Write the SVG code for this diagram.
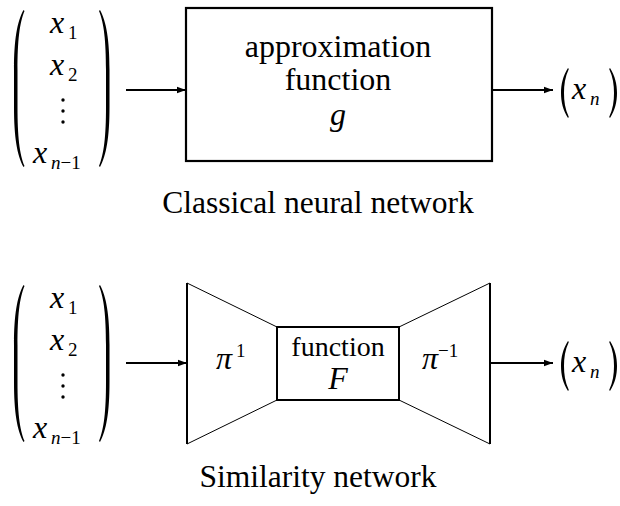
<svg xmlns="http://www.w3.org/2000/svg" width="620" height="506" viewBox="0 0 620 506" font-family="Liberation Serif, Times New Roman, Times, DejaVu Serif, FreeSerif, serif">
<style>
text{font-family:"Liberation Serif","Times New Roman",Times,"DejaVu Serif",FreeSerif,serif;fill:#000}
.mi{font-style:italic;font-size:32px}
.sub{font-size:19px}
.cap{font-size:31.5px;text-anchor:middle}
.edge{stroke:#000;stroke-width:2;fill:none}
.thin{stroke:#000;stroke-width:1;fill:none}
.par{fill:#000;stroke:none}
</style>
<defs>
<marker id="ah" markerUnits="userSpaceOnUse" markerWidth="10" markerHeight="8" refX="9" refY="4" orient="auto">
<path d="M0,0.8 L9,4 L0,7.2 Z" fill="#000"/>
</marker>
<path id="bigL" d="M23.5,10 C17,22 14,40 14,70 L14,107 C14,137 17,155 23.5,167 L24.5,166 C19.5,154 17.5,136 17.5,107 L17.5,70 C17.5,41 19.5,23 24.5,11 Z"/>
<path id="smL" d="M568,68 C563,76 561,84 561,93 C561,102 563,110 568,118 L568.8,117 C565,109 564,101 564,93 C564,85 565,77 568.8,69 Z"/>
</defs>

<g id="input-vector-top">
<use href="#bigL" class="par"/>
<use href="#bigL" class="par" transform="translate(123.5,0) scale(-1,1)"/>
<text class="mi" x="50" y="33">x</text><text class="sub" x="68" y="39">1</text>
<text class="mi" x="50" y="75">x</text><text class="sub" x="68" y="81">2</text>
<circle cx="63" cy="100" r="1.7"/><circle cx="63" cy="111" r="1.7"/><circle cx="63" cy="122" r="1.7"/>
<text class="mi" x="33" y="163">x</text><text class="sub" x="51" y="169"><tspan font-style="italic">n</tspan>−1</text>
</g>
<g id="approximation-box">
<rect x="186" y="8" width="306" height="153" fill="#fff" stroke="#000" stroke-width="2.2"/>
<text font-size="32" text-anchor="middle" x="338" y="57">approximation</text>
<text font-size="32" text-anchor="middle" x="338" y="90">function</text>
<text class="mi" text-anchor="middle" x="338" y="125">g</text>
</g>
<g id="output-top">
<use href="#smL" class="par"/>
<use href="#smL" class="par" transform="translate(1178,0) scale(-1,1)"/>
<text class="mi" x="572" y="99">x</text><text class="sub" x="590" y="105" font-style="italic">n</text>
</g>
<g id="caption-top"><text class="cap" x="318" y="213">Classical neural network</text></g>

<g id="input-vector-bottom">
<use href="#bigL" class="par" transform="translate(0,275)"/>
<use href="#bigL" class="par" transform="translate(123.5,275) scale(-1,1)"/>
<text class="mi" x="50" y="308">x</text><text class="sub" x="68" y="314">1</text>
<text class="mi" x="50" y="350">x</text><text class="sub" x="68" y="356">2</text>
<circle cx="63" cy="375" r="1.7"/><circle cx="63" cy="386" r="1.7"/><circle cx="63" cy="397" r="1.7"/>
<text class="mi" x="33" y="438">x</text><text class="sub" x="51" y="444"><tspan font-style="italic">n</tspan>−1</text>
</g>
<g id="pi-encoder">
<line class="edge" x1="187" y1="283" x2="187" y2="444"/>
<line class="thin" x1="187" y1="283" x2="277" y2="327"/>
<line class="thin" x1="187" y1="444" x2="277" y2="400"/>
<text class="mi" x="216" y="369" font-size="30">π</text><text class="sub" x="236" y="357">1</text>
</g>
<g id="function-F">
<rect x="277" y="327" width="122" height="73" fill="#fff" stroke="#000" stroke-width="2"/>
<text font-size="28" text-anchor="middle" x="338" y="356">function</text>
<text class="mi" font-size="30" text-anchor="middle" x="338" y="389">F</text>
</g>
<g id="pi-decoder">
<line class="edge" x1="490" y1="283" x2="490" y2="444"/>
<line class="thin" x1="399" y1="327" x2="490" y2="283"/>
<line class="thin" x1="399" y1="400" x2="490" y2="444"/>
<text class="mi" x="422" y="369" font-size="30">π</text><text class="sub" x="438" y="357">−1</text>
</g>
<g id="output-bottom">
<use href="#smL" class="par" transform="translate(0,273)"/>
<use href="#smL" class="par" transform="translate(1178,273) scale(-1,1)"/>
<text class="mi" x="572" y="372">x</text><text class="sub" x="590" y="378" font-style="italic">n</text>
</g>
<g id="caption-bottom"><text class="cap" x="318" y="487">Similarity network</text></g>

<g id="connectors">
<line class="edge" x1="126" y1="90" x2="186" y2="90" marker-end="url(#ah)"/>
<line class="edge" x1="492" y1="90" x2="553" y2="90" marker-end="url(#ah)"/>
<line class="edge" x1="126" y1="363" x2="187" y2="363" marker-end="url(#ah)"/>
<line class="edge" x1="490" y1="363" x2="553" y2="363" marker-end="url(#ah)"/>
</g>
</svg>
